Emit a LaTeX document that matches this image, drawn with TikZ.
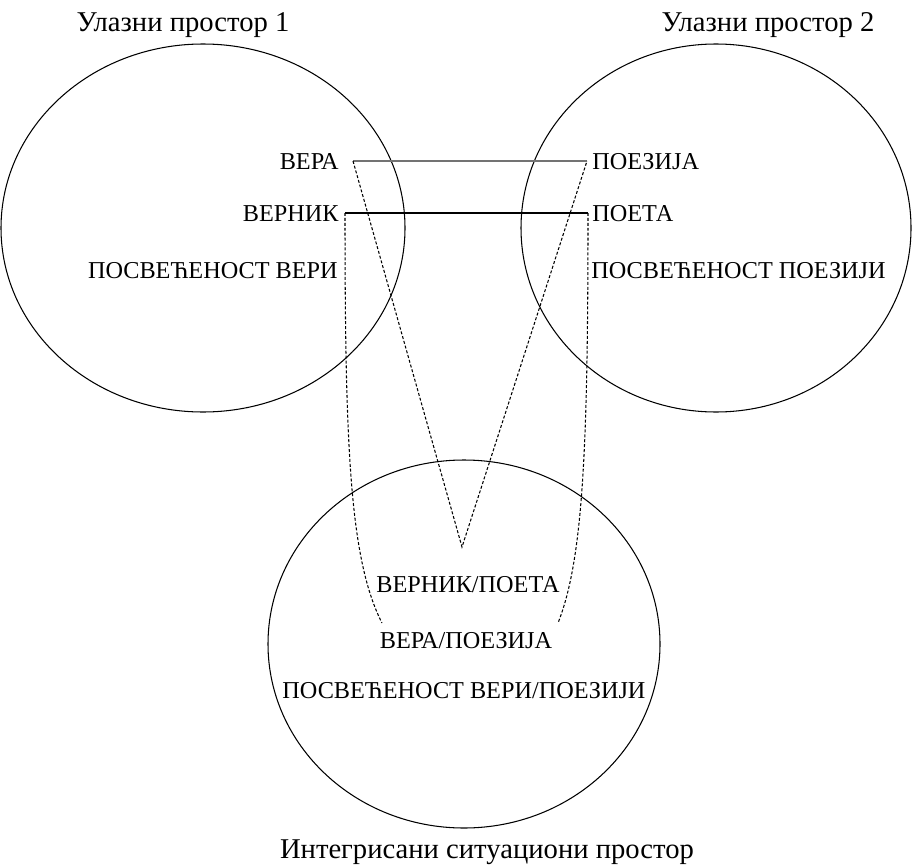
\documentclass[tikz,border=0pt]{standalone}
\usepackage{fontspec}
\setmainfont{Liberation Serif}
\tikzset{
    lbl/.style={inner sep=0pt, font=\fontsize{13.8}{16}\selectfont},
    ttl/.style={inner sep=0pt, font=\fontsize{16.3}{19}\selectfont},
    link/.style={line width=0.6pt, dash pattern=on 1.7pt off 1.1pt},
    frame/.style={line width=0.6pt}
}
\begin{document}
\begin{tikzpicture}[x=0.02cm,y=-0.02cm]
        \useasboundingbox (0,0) rectangle (912,865);
        \draw [frame] (203,228) ellipse [x radius=202, y radius=184];
        \draw [frame] (716,228) ellipse [x radius=195, y radius=184];
        \draw [frame] (464,644) ellipse [x radius=196, y radius=184];

        \node [ttl,anchor=base] (in1) at (183,32) {Улазни простор 1};
        \node [ttl,anchor=base] (in2) at (768,32) {Улазни простор 2};
        \node [ttl,anchor=base] (blend) at (487,858) {Интегрисани ситуациони простор};

        \node [lbl,anchor=base east] (vera) at (339,169) {ВЕРА};
        \node [lbl,anchor=base east] (vernik) at (339,221) {ВЕРНИК};
        \node [lbl,anchor=base east] (posv1) at (338,278) {ПОСВЕЋЕНОСТ ВЕРИ};
        \node [lbl,anchor=base west] (poezija) at (592,169) {ПОЕЗИЈА};
        \node [lbl,anchor=base west] (poeta) at (592,221) {ПОЕТА};
        \node [lbl,anchor=base west] (posv2) at (591,278) {ПОСВЕЋЕНОСТ ПОЕЗИЈИ};
        \node [lbl,anchor=base] (vernikpoeta) at (468,592) {ВЕРНИК/ПОЕТА};
        \node [lbl,anchor=base] (verapoezija) at (466,648) {ВЕРА/ПОЕЗИЈА};
        \node [lbl,anchor=base] (posv3) at (464,698) {ПОСВЕЋЕНОСТ ВЕРИ/ПОЕЗИЈИ};

        \coordinate (veraL) at (353,161);
        \coordinate (veraR) at (587,161);
        \coordinate (vernikL) at (345,213);
        \coordinate (vernikR) at (588,213);
        \coordinate (apex) at (462,547);
        \coordinate (endL) at (382,623);
        \coordinate (endR) at (558,623);

        \draw [frame, black!55] (veraL) -- (veraR);
        \draw [frame] (vernikL) -- (vernikR);
        \draw [link] (veraL) -- (apex) -- (veraR);
        \draw [link] (vernikL) .. controls (345,450) and (350,560) .. (endL);
        \draw [link] (vernikR) .. controls (588,450) and (583,560) .. (endR);
\end{tikzpicture}
\end{document}
